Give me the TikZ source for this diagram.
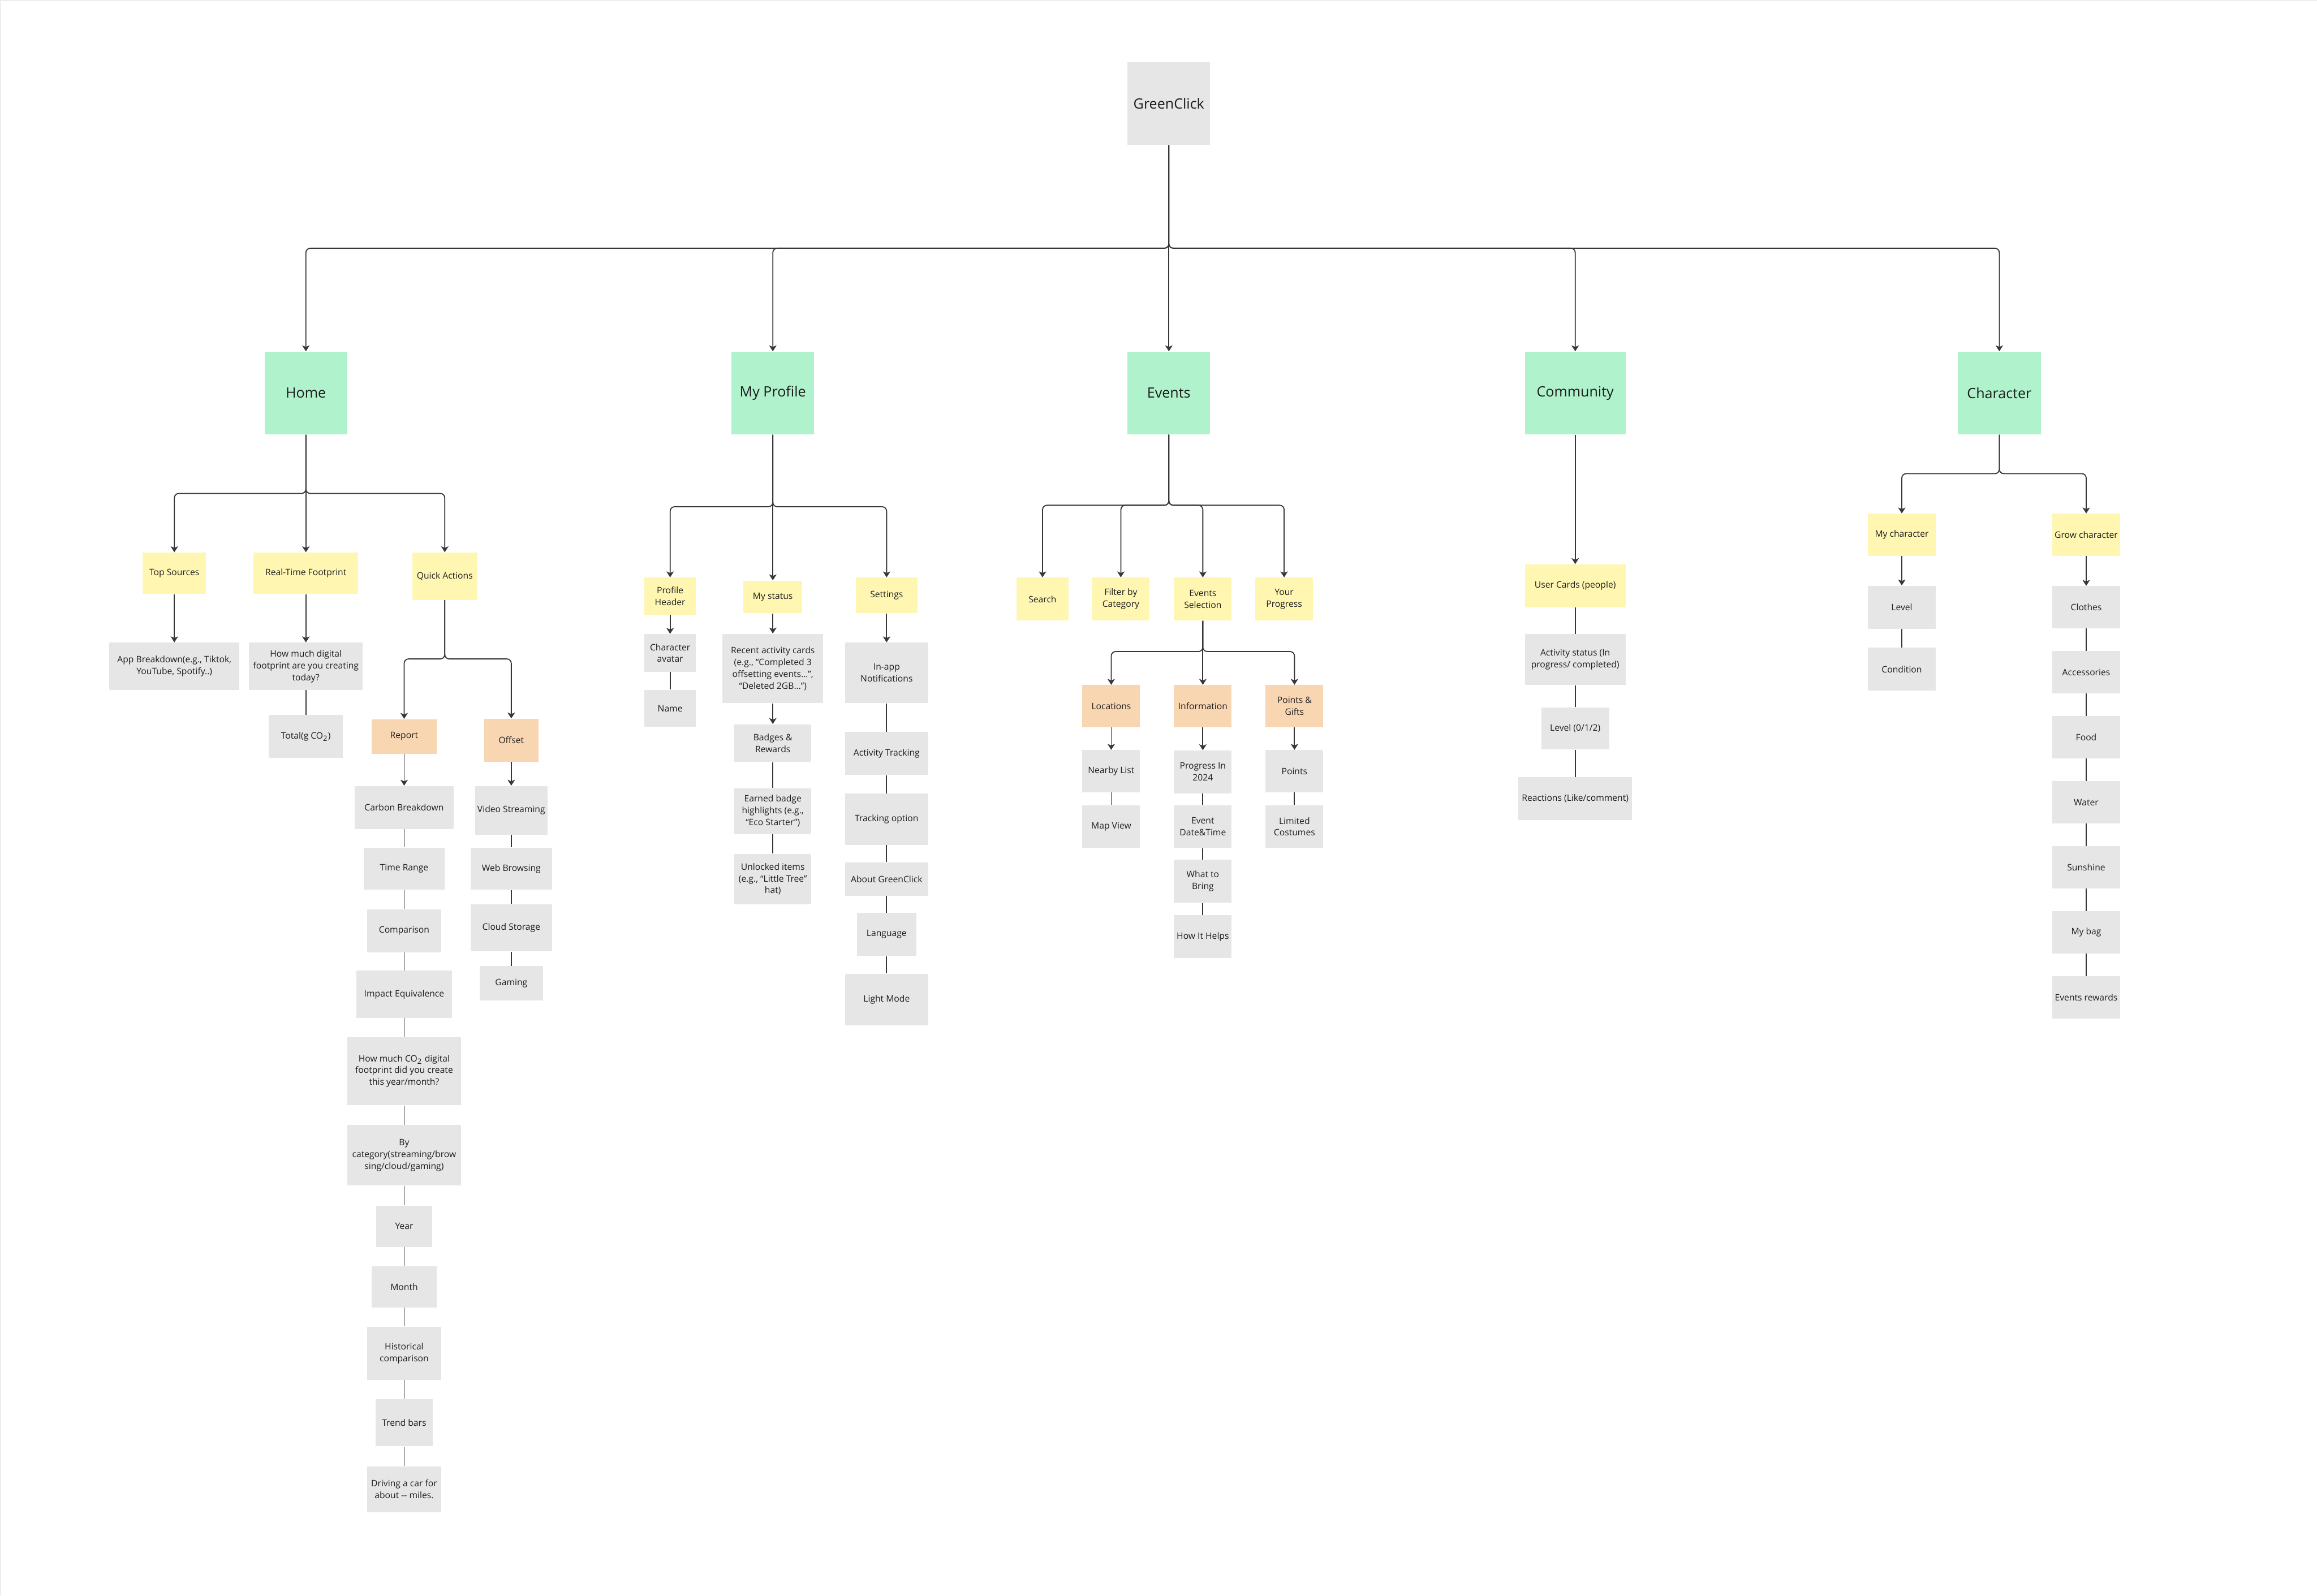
\documentclass[tikz,border=0pt]{standalone}
\usepackage{fontspec}
\setmainfont{Open Sans}
\usepackage{tikz}
\usetikzlibrary{arrows.meta}
\definecolor{rootgray}{RGB}{230,230,230}
\definecolor{pagegreen}{RGB}{176,242,203}
\definecolor{subyellow}{RGB}{255,246,178}
\definecolor{grouppeach}{RGB}{248,214,178}
\definecolor{linegray}{RGB}{55,55,55}
\definecolor{inkgray}{RGB}{28,28,28}
\tikzset{
  basebox/.style={
    rectangle,
    align=center,
    inner sep=1pt,
    text=inkgray,
    font=\fontsize{6}{8}\selectfont
  },
  rootbox/.style={basebox,fill=rootgray,minimum width=56pt,minimum height=56pt,font=\fontsize{9.6}{12}\selectfont},
  pagebox/.style={basebox,fill=pagegreen,minimum width=56pt,minimum height=56pt,font=\fontsize{9.6}{12}\selectfont},
  subbox/.style={basebox,fill=subyellow},
  groupbox/.style={basebox,fill=grouppeach},
  itembox/.style={basebox,fill=rootgray},
  arrowline/.style={-{Stealth[length=4pt,width=5pt,inset=1pt]},line width=0.7pt,draw=linegray,rounded corners=3pt},
  plainline/.style={line width=0.7pt,draw=linegray}
}

\begin{document}
\begin{tikzpicture}[x=1pt,y=-1pt]
  \useasboundingbox (0,0) rectangle (1568,1080);
  \draw[black!7,line width=1.2pt] (0,1080) -- (0,0) -- (1568,0);

  % root and main pages
  \node[rootbox] (root) at (791,70) {GreenClick};
  \node[pagebox] (home) at (207,266) {Home};
  \node[pagebox] (profile) at (523,266) {My Profile};
  \node[pagebox] (events) at (791,266) {Events};
  \node[pagebox,minimum width=68pt] (community) at (1066,266) {Community};
  \node[pagebox] (character) at (1353,266) {Character};

  \coordinate (topbus) at (791,168);
  \draw[arrowline] (root) -- (events);
  \foreach \pg in {home,profile,community,character}
    \draw[arrowline] (root.south) -- (topbus) -| (\pg.north);

  % Home
  \node[subbox,minimum width=43pt,minimum height=28pt] (topsrc) at (118,388) {Top Sources};
  \node[subbox,minimum width=71pt,minimum height=28pt] (rtfoot) at (207,388) {Real-Time Footprint};
  \node[subbox,minimum width=44pt,minimum height=32pt] (quick) at (301,390) {Quick Actions};
  \node[itembox,minimum width=88pt,minimum height=32pt] (appbrk) at (118,451) {App Breakdown(e.g., Tiktok,\\YouTube, Spotify..)};
  \node[itembox,minimum width=77pt,minimum height=32pt] (howmuch) at (207,451) {How much digital\\footprint are you creating\\today?};
  \node[itembox,minimum width=50pt,minimum height=29pt] (total) at (207,498.5) {Total(g CO\textsubscript{2})};
  \node[groupbox,minimum width=44pt,minimum height=23.5pt] (report) at (273.5,498.5) {Report};
  \node[groupbox,minimum width=37pt,minimum height=29pt] (offset) at (346,501) {Offset};

  \coordinate (homebus) at (207,334);
  \coordinate (quickbus) at (301,446);
  \draw[arrowline] (home) -- (rtfoot);
  \draw[arrowline] (home.south) -- (homebus) -| (topsrc.north);
  \draw[arrowline] (home.south) -- (homebus) -| (quick.north);
  \draw[arrowline] (topsrc) -- (appbrk);
  \draw[arrowline] (rtfoot) -- (howmuch);
  \draw[plainline] (howmuch) -- (total);
  \draw[arrowline] (quick.south) -- (quickbus) -| (report.north);
  \draw[arrowline] (quick.south) -- (quickbus) -| (offset.north);

  \node[itembox,minimum width=67pt,minimum height=29pt] (carbon) at (273.5,546.5) {Carbon Breakdown};
  \node[itembox,minimum width=55pt,minimum height=28.5pt] (timerange) at (273.5,588) {Time Range};
  \node[itembox,minimum width=50pt,minimum height=29pt] (compare) at (273.5,630) {Comparison};
  \node[itembox,minimum width=65pt,minimum height=32pt] (impact) at (273.5,673) {Impact Equivalence};
  \node[itembox,minimum width=77pt,minimum height=46pt] (howmuchco) at (273.5,725) {How much CO\textsubscript{2} digital\\footprint did you create\\this year/month?};
  \node[itembox,minimum width=77pt,minimum height=41pt] (bycat) at (273.5,782) {By\\category(streaming/brow\\sing/cloud/gaming)};
  \node[itembox,minimum width=38pt,minimum height=28pt] (year) at (273.5,830) {Year};
  \node[itembox,minimum width=44pt,minimum height=28pt] (month) at (273.5,871) {Month};
  \node[itembox,minimum width=50pt,minimum height=36pt] (history) at (273.5,916) {Historical\\comparison};
  \node[itembox,minimum width=39pt,minimum height=32pt] (trend) at (273.5,963) {Trend bars};
  \node[itembox,minimum width=50pt,minimum height=31pt] (driving) at (273.5,1008) {Driving a car for\\about -{}- miles.};
  \draw[arrowline] (report) -- (carbon);
  \foreach \a/\b in {carbon/timerange,timerange/compare,compare/impact,impact/howmuchco,
                     howmuchco/bycat,bycat/year,year/month,month/history,history/trend,trend/driving}
    \draw[plainline] (\a) -- (\b);

  \node[itembox,minimum width=49pt,minimum height=33pt] (video) at (346,548.5) {Video Streaming};
  \node[itembox,minimum width=55pt,minimum height=28.5pt] (web) at (346,588) {Web Browsing};
  \node[itembox,minimum width=55pt,minimum height=32pt] (cloud) at (346,628) {Cloud Storage};
  \node[itembox,minimum width=43pt,minimum height=23pt] (gaming) at (346,665.5) {Gaming};
  \draw[arrowline] (offset) -- (video);
  \foreach \a/\b in {video/web,web/cloud,cloud/gaming}
    \draw[plainline] (\a) -- (\b);

  % My Profile
  \node[subbox,minimum width=35pt,minimum height=25pt] (profhead) at (453.5,403.5) {Profile\\Header};
  \node[subbox,minimum width=40pt,minimum height=22pt] (mystatus) at (523,404) {My status};
  \node[subbox,minimum width=42pt,minimum height=24pt] (settings) at (600,403) {Settings};
  \coordinate (profbus) at (523,343);
  \draw[arrowline] (profile) -- (mystatus);
  \draw[arrowline] (profile.south) -- (profbus) -| (profhead.north);
  \draw[arrowline] (profile.south) -- (profbus) -| (settings.north);

  \node[itembox,minimum width=35pt,minimum height=25.5pt] (avatar) at (453.5,442) {Character\\avatar};
  \node[itembox,minimum width=35pt,minimum height=25pt] (name) at (453.5,479.5) {Name};
  \draw[arrowline] (profhead) -- (avatar);
  \draw[plainline] (avatar) -- (name);

  \node[itembox,minimum width=68pt,minimum height=47pt] (recent) at (523,452.5) {Recent activity cards\\(e.g., “Completed 3\\offsetting events…”,\\“Deleted 2GB…”)};
  \node[itembox,minimum width=52pt,minimum height=25.5pt] (badges) at (523,503) {Badges \&\\Rewards};
  \node[itembox,minimum width=52pt,minimum height=31pt] (earned) at (523,549) {Earned badge\\highlights (e.g.,\\“Eco Starter”)};
  \node[itembox,minimum width=52pt,minimum height=34pt] (unlocked) at (523,595) {Unlocked items\\(e.g., “Little Tree”\\hat)};
  \draw[arrowline] (mystatus) -- (recent);
  \draw[arrowline] (recent) -- (badges);
  \draw[plainline] (badges) -- (earned);
  \draw[plainline] (earned) -- (unlocked);

  \node[itembox,minimum width=56pt,minimum height=41pt] (inapp) at (600,455.5) {In-app\\Notifications};
  \node[itembox,minimum width=56pt,minimum height=29pt] (acttrack) at (600,510) {Activity Tracking};
  \node[itembox,minimum width=56pt,minimum height=34.5pt] (trackopt) at (600,554.5) {Tracking option};
  \node[itembox,minimum width=56pt,minimum height=22.5pt] (about) at (600,595) {About GreenClick};
  \node[itembox,minimum width=40pt,minimum height=29pt] (language) at (600,632.5) {Language};
  \node[itembox,minimum width=56pt,minimum height=35pt] (lightmode) at (600,676.5) {Light Mode};
  \draw[arrowline] (settings) -- (inapp);
  \foreach \a/\b in {inapp/acttrack,acttrack/trackopt,trackopt/about,about/language,language/lightmode}
    \draw[plainline] (\a) -- (\b);

  % Events
  \node[subbox,minimum width=35pt,minimum height=29pt] (search) at (705.5,405.5) {Search};
  \node[subbox,minimum width=39pt,minimum height=29pt] (filter) at (758.5,405.5) {Filter by\\Category};
  \node[subbox,minimum width=39pt,minimum height=29pt] (evsel) at (814,405.5) {Events\\Selection};
  \node[subbox,minimum width=39pt,minimum height=29pt] (yourprog) at (869,405.5) {Your\\Progress};
  \coordinate (evbus) at (791,342);
  \foreach \ch in {search,filter,evsel,yourprog}
    \draw[arrowline] (events.south) -- (evbus) -| (\ch.north);

  \node[groupbox,minimum width=39pt,minimum height=28.5pt] (locations) at (752,478) {Locations};
  \node[groupbox,minimum width=39pt,minimum height=28.5pt] (info) at (814,478) {Information};
  \node[groupbox,minimum width=39pt,minimum height=28.5pt] (ptsgifts) at (876,478) {Points \&\\Gifts};
  \coordinate (selbus) at (814,441);
  \draw[arrowline] (evsel) -- (info);
  \draw[arrowline] (evsel.south) -- (selbus) -| (locations.north);
  \draw[arrowline] (evsel.south) -- (selbus) -| (ptsgifts.north);

  \node[itembox,minimum width=39pt,minimum height=28.5pt] (nearby) at (752,522) {Nearby List};
  \node[itembox,minimum width=39pt,minimum height=29pt] (mapview) at (752,559.5) {Map View};
  \node[itembox,minimum width=39pt,minimum height=29pt] (prog24) at (814,522.5) {Progress In\\2024};
  \node[itembox,minimum width=39pt,minimum height=29pt] (datetime) at (814,559.5) {Event\\Date\&Time};
  \node[itembox,minimum width=39pt,minimum height=29pt] (bring) at (814,596.5) {What to\\Bring};
  \node[itembox,minimum width=39pt,minimum height=29pt] (helps) at (814,634) {How It Helps};
  \node[itembox,minimum width=39pt,minimum height=28.5pt] (ptsitem) at (876,522) {Points};
  \node[itembox,minimum width=39pt,minimum height=29pt] (costumes) at (876,559.5) {Limited\\Costumes};
  \draw[arrowline] (locations) -- (nearby);
  \draw[arrowline] (info) -- (prog24);
  \draw[arrowline] (ptsgifts) -- (ptsitem);
  \foreach \a/\b in {nearby/mapview,prog24/datetime,datetime/bring,bring/helps,ptsitem/costumes}
    \draw[plainline] (\a) -- (\b);

  % Community
  \node[subbox,minimum width=68pt,minimum height=29pt] (usercards) at (1066,396.5) {User Cards (people)};
  \node[itembox,minimum width=68pt,minimum height=34.5pt] (actstatus) at (1066,446.5) {Activity status (In\\progress/ completed)};
  \node[itembox,minimum width=46pt,minimum height=28.5pt] (userlevel) at (1066,493) {Level (0/1/2)};
  \node[itembox,minimum width=77pt,minimum height=29pt] (reactions) at (1066,540.5) {Reactions (Like/comment)};
  \draw[arrowline] (community) -- (usercards);
  \foreach \a/\b in {usercards/actstatus,actstatus/userlevel,userlevel/reactions}
    \draw[plainline] (\a) -- (\b);

  % Character
  \node[subbox,minimum width=46pt,minimum height=28.5pt] (mychar) at (1287,362) {My character};
  \node[subbox,minimum width=46pt,minimum height=28.5pt] (growchar) at (1411.8,362) {Grow character};
  \coordinate (charbus) at (1353,320.6);
  \draw[arrowline] (character.south) -- (charbus) -| (mychar.north);
  \draw[arrowline] (character.south) -- (charbus) -| (growchar.north);

  \node[itembox,minimum width=46pt,minimum height=29pt] (charlevel) at (1287,411) {Level};
  \node[itembox,minimum width=46pt,minimum height=29pt] (condition) at (1287,453) {Condition};
  \draw[arrowline] (mychar) -- (charlevel);
  \draw[plainline] (charlevel) -- (condition);

  \foreach \nm/\yy/\txt in {clothes/411/Clothes,accessories/455/Accessories,food/499/Food,
                            water/543/Water,sunshine/587/Sunshine,mybag/631/My bag,rewards/675/Events rewards}
    \node[itembox,minimum width=46pt,minimum height=28.5pt] (\nm) at (1411.8,\yy) {\txt};
  \draw[arrowline] (growchar) -- (clothes);
  \foreach \a/\b in {clothes/accessories,accessories/food,food/water,water/sunshine,sunshine/mybag,mybag/rewards}
    \draw[plainline] (\a) -- (\b);
\end{tikzpicture}
\end{document}
